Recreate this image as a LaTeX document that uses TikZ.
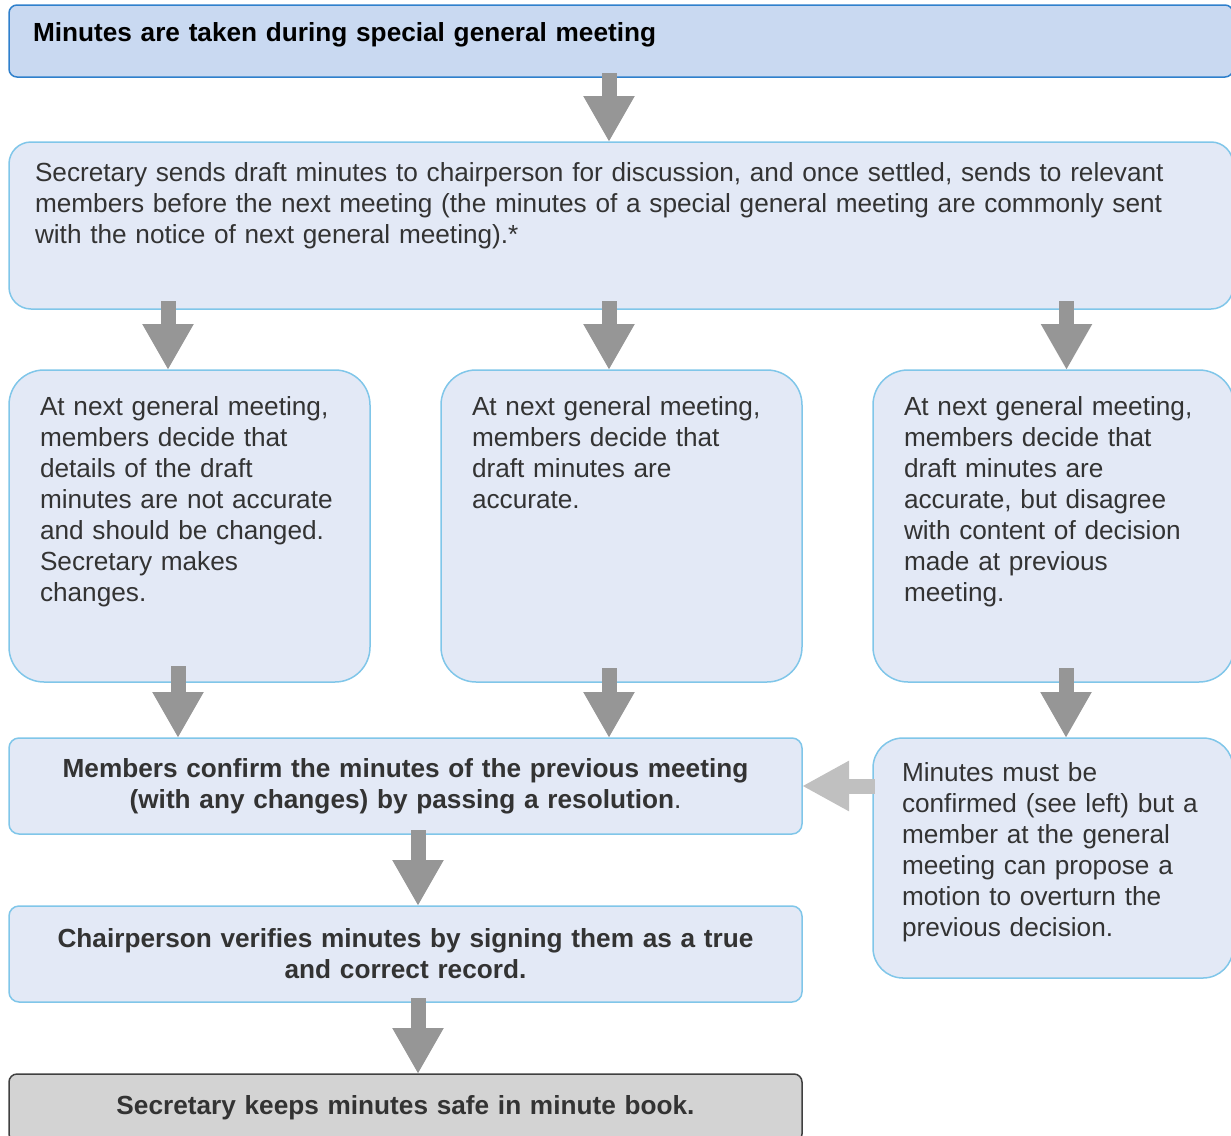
\documentclass[tikz,border=0pt]{standalone}
\usepackage{fontspec}
\setmainfont{Liberation Sans}
\usepackage{xcolor}
\usepackage{tikz}
\usetikzlibrary{arrows.meta, positioning}
\definecolor{headfill}{RGB}{201,217,241}
\definecolor{headline}{RGB}{47,128,204}
\definecolor{stepfill}{RGB}{227,233,246}
\definecolor{stepline}{RGB}{128,198,233}
\definecolor{endfill}{RGB}{211,211,211}
\definecolor{endline}{RGB}{64,64,64}
\definecolor{arrowgray}{RGB}{150,150,150}
\definecolor{backgray}{RGB}{192,192,192}
\definecolor{bodytext}{RGB}{51,51,51}
\newcommand{\boxfont}{\fontsize{26.2}{31}\selectfont}
\tikzset{
  headblock/.style={
    rectangle, rounded corners=8pt, draw=headline, fill=headfill,
    line width=1.5pt, outer sep=0pt, font=\boxfont\bfseries, text=black, align=left,
    minimum width=1224pt, text width=1176pt, inner xsep=24pt, inner ysep=14pt,
    text height=22pt, text depth=22pt, anchor=north west
  },
  stepblock/.style={
    rectangle, rounded corners=22pt, draw=stepline, fill=stepfill,
    line width=1.5pt, outer sep=0pt, font=\boxfont, text=bodytext, align=left,
    minimum width=1224pt, text width=1172pt, inner xsep=26pt, inner ysep=14pt,
    text height=25pt, text depth=114pt
  },
  choiceblock/.style={
    rectangle, rounded corners=35pt, draw=stepline, fill=stepfill,
    line width=1.5pt, outer sep=0pt, font=\boxfont, text=bodytext, align=left,
    minimum width=361pt, text width=299pt, inner xsep=31pt, inner ysep=14pt,
    text height=31pt, text depth=253pt
  },
  noteblock/.style={
    rectangle, rounded corners=30pt, draw=stepline, fill=stepfill,
    line width=1.5pt, outer sep=0pt, font=\boxfont, text=bodytext, align=left,
    minimum width=360pt, text width=302pt, inner xsep=29pt, inner ysep=14pt,
    text height=29pt, text depth=183pt
  },
  resultblock/.style={
    rectangle, rounded corners=10pt, draw=stepline, fill=stepfill,
    line width=1.5pt, outer sep=0pt, font=\boxfont\bfseries, text=bodytext, align=center,
    minimum width=793pt, minimum height=96pt, text width=753pt, inner xsep=20pt
  },
  endblock/.style={
    rectangle, rounded corners=8pt, draw=endline, fill=endfill,
    line width=1.5pt, outer sep=0pt, font=\boxfont\bfseries, text=bodytext, align=center,
    minimum width=793pt, minimum height=68pt, text width=753pt, inner xsep=20pt
  },
  arrow/.style={-{Triangle[length=46pt, width=48pt]}, line width=15pt, draw=arrowgray},
  backarrow/.style={-{Triangle[length=47pt, width=47pt]}, line width=15pt, draw=backgray},
}

\begin{document}
\begin{tikzpicture}[x=1pt, y=-1pt]
  \useasboundingbox (0,0) rectangle (1231,1135);
  \node[headblock] (taken) at (9,5) {Minutes are taken during special general meeting};
  \node[stepblock, below=65pt of taken.south west, anchor=north west] (draft)
    {Secretary sends draft minutes to chairperson for discussion, and once settled, sends to relevant\\members before the next meeting (the minutes of a special general meeting are commonly sent\\with the notice of next general meeting).*};
  \node[choiceblock, below=61pt of draft.south west, anchor=north west] (changed)
    {At next general meeting,\\members decide that\\details of the draft\\minutes are not accurate\\and should be changed.\\Secretary makes\\changes.};
  \node[choiceblock, right=71pt of changed.north east, anchor=north west] (accurate)
    {At next general meeting,\\members decide that\\draft minutes are\\accurate.};
  \node[choiceblock, right=71pt of accurate.north east, anchor=north west] (disagree)
    {At next general meeting,\\members decide that\\draft minutes are\\accurate, but disagree\\with content of decision\\made at previous\\meeting.};
  \node[resultblock, below=56pt of changed.south west, anchor=north west] (confirm)
    {Members confirm the minutes of the previous meeting\\(with any changes) by passing a resolution{\mdseries.}};
  \node[noteblock, below=56pt of disagree.south west, anchor=north west] (overturn)
    {Minutes must be\\confirmed (see left) but a\\member at the general\\meeting can propose a\\motion to overturn the\\previous decision.};
  \node[resultblock, below=72pt of confirm.south west, anchor=north west] (verify)
    {Chairperson verifies minutes by signing them as a true\\and correct record.};
  \node[endblock, below=72pt of verify.south west, anchor=north west] (keep)
    {Secretary keeps minutes safe in minute book.};

  \draw[arrow] ([xshift=-12pt, yshift=69pt]draft.north) -- ([xshift=-12pt]draft.north);
  \draw[arrow] ([xshift=-21.5pt, yshift=69pt]changed.north) -- ([xshift=-21.5pt]changed.north);
  \draw[arrow] ([xshift=-12.5pt, yshift=69pt]accurate.north) -- ([xshift=-12.5pt]accurate.north);
  \draw[arrow] ([xshift=13pt, yshift=69pt]disagree.north) -- ([xshift=13pt]disagree.north);
  \draw[arrow] ([xshift=-227.5pt, yshift=72pt]confirm.north) -- ([xshift=-227.5pt]confirm.north);
  \draw[arrow] ([xshift=203.5pt, yshift=70pt]confirm.north) -- ([xshift=203.5pt]confirm.north);
  \draw[arrow] ([xshift=13pt, yshift=70pt]overturn.north) -- ([xshift=13pt]overturn.north);
  \draw[backarrow] ([xshift=2pt]overturn.west |- confirm.east) -- (confirm.east);
  \draw[arrow] ([xshift=12.5pt, yshift=76pt]verify.north) -- ([xshift=12.5pt]verify.north);
  \draw[arrow] ([xshift=12.5pt, yshift=76pt]keep.north) -- ([xshift=12.5pt]keep.north);
\end{tikzpicture}
\end{document}
